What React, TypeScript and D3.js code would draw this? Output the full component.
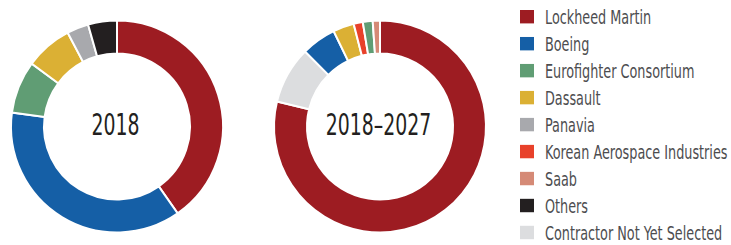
import React from "react";
import * as d3 from "d3";

// legend order
const companies = [
  "Lockheed Martin",
  "Boeing",
  "Eurofighter Consortium",
  "Dassault",
  "Panavia",
  "Korean Aerospace Industries",
  "Saab",
  "Others",
  "Contractor Not Yet Selected",
];
const colors = [
  "#9d1c22",
  "#155fa6",
  "#609d74",
  "#dbb034",
  "#a8a9ad",
  "#e8412a",
  "#d58a76",
  "#231f20",
  "#dcdddf",
];

// market share (%), legend order
const share2018 = [40.3, 36.8, 8.0, 7.2, 3.3, 0, 0, 4.4, 0];
const share2018to2027 = [78.8, 5.3, 1.5, 3.2, 0, 1.4, 1.1, 0, 8.7];

// clockwise drawing order of slices from 12 o'clock
const order2018 = ["Lockheed Martin", "Boeing", "Eurofighter Consortium", "Dassault", "Panavia", "Others"];
const order2018to2027 = [
  "Lockheed Martin",
  "Contractor Not Yet Selected",
  "Boeing",
  "Dassault",
  "Korean Aerospace Industries",
  "Eurofighter Consortium",
  "Saab",
];

const condensed = "'DejaVu Sans Condensed', 'Liberation Sans Narrow', sans-serif";

const color = d3.scaleOrdinal<string, string>().domain(companies).range(colors);

function Donut({ cx, cy, label, values, order }: { cx: number; cy: number; label: string; values: number[]; order: string[] }) {
  const rows = order.map((name) => ({ name, value: values[companies.indexOf(name)] }));
  const pie = d3.pie<{ name: string; value: number }>().sort(null).value((d) => d.value);
  const arc = d3.arc<d3.PieArcDatum<{ name: string; value: number }>>().innerRadius(73).outerRadius(106);
  return (
    <g transform={`translate(${cx},${cy})`}>
      {pie(rows).map((a) => (
        <path key={a.data.name} d={arc(a) || ""} fill={color(a.data.name)} stroke="#fff" strokeWidth={2} />
      ))}
      <text
        transform="translate(-1.5,8) scale(0.7,1)"
        textAnchor="middle"
        fontFamily={condensed}
        fontSize={30}
        fill="#231f20"
      >
        {label}
      </text>
    </g>
  );
}

export default function App() {
  const legendY = d3.scalePoint<string>().domain(companies).range([16.7, 232.5]);
  return (
    <svg width={731} height={245} style={{ position: "absolute", left: 0, top: 0, background: "#fff" }}>
      <Donut cx={117} cy={126.5} label="2018" values={share2018} order={order2018} />
      <Donut cx={380} cy={126.5} label="2018–2027" values={share2018to2027} order={order2018to2027} />
      <g>
        {companies.map((name) => (
          <g key={name} transform={`translate(520,${legendY(name)})`}>
            <rect x={0} y={-6.7} width={14} height={13.4} fill={color(name)} />
            <text
              transform="translate(25,7.5) scale(0.75,1)"
              fontFamily={condensed}
              fontSize={19}
              fill="#4d4d4f"
            >
              {name}
            </text>
          </g>
        ))}
      </g>
    </svg>
  );
}
